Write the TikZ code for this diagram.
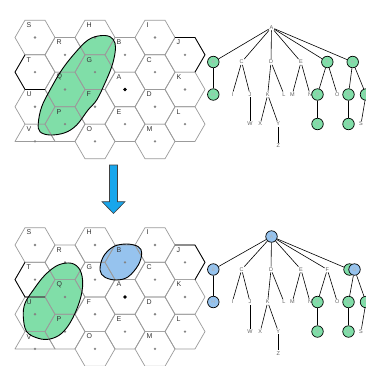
\documentclass[tikz,border=0pt]{standalone}
\usepackage{fontspec}
\setmainfont{Liberation Sans}
\usetikzlibrary{backgrounds}
\definecolor{hexgray}{RGB}{155,155,155}
\definecolor{mint}{RGB}{128,222,168}
\definecolor{skyfill}{RGB}{150,195,238}
\definecolor{arrowblue}{RGB}{24,166,236}
\tikzset{
  hexline/.style={draw=hexgray, line width=0.7pt, line join=round},
  rimline/.style={draw=black, line width=0.8pt, line join=round},
  celllabel/.style={anchor=west, inner sep=0pt, text=black!80, font=\fontsize{7}{8}\selectfont},
  tlab/.style={inner sep=0.8pt, text=black!62, font=\fontsize{5.5}{6}\selectfont},
  tgreen/.style={circle, draw=black, line width=0.7pt, fill=mint, minimum size=11.5pt, inner sep=0pt, text=white!70!black, font=\fontsize{5}{6}\selectfont},
  tblue/.style={tgreen, fill=skyfill},
  tedge/.style={draw=black, line width=0.6pt},
  tbold/.style={draw=black, line width=1.3pt},
}
% hexagonal cells of one panel; #1 is a name prefix
\newcommand{\hexpanel}[1]{%
  \foreach \n/\c/\r in {S/0/0,T/0/1,U/0/2,R/1/0,Q/1/1,P/1/2,H/2/0,G/2/1,F/2/2,O/2/3,B/3/0,A/3/1,E/3/2,I/4/0,C/4/1,D/4/2,M/4/3,J/5/0,K/5/1,L/5/2}{%
    \pgfmathsetmacro\cx{35+30*\c}%
    \pgfmathsetmacro\cy{37.5+34.64*\r+17.32*mod(\c,2)}%
    \draw[hexline] (\cx+20,\cy) -- ++(-10,17.32) -- ++(-20,0) -- ++(-10,-17.32) -- ++(10,-17.32) -- ++(20,0) -- cycle;
    \fill[hexgray!85!black] (\cx,\cy) circle (1.3);
    \node[celllabel] (#1\n) at (\cx-8.5,\cy-12.5) {\n};
  }
  % truncated cell V at the lower border
  \draw[hexline] (55,141.4) -- (45,124.1) -- (25,124.1) -- (15,141.4) -- cycle;
  \fill[hexgray!85!black] (35,141.4) circle (1.3);
  \node[celllabel] (#1V) at (26.5,129.4) {V};
  % query point in cell A
  \fill[black] (125,89.5) circle (1.9);
  % dark rims of cells T and J
  \draw[rimline] (25,54.8) -- (15,72.1) -- (25,89.4) -- (45,89.4);
  \draw[rimline] (175,37.5) -- (195,37.5) -- (205,54.8) -- (195,72.1);
}
\begin{document}
\begin{tikzpicture}[x=1pt,y=-1pt]
\useasboundingbox (0,0) rectangle (366,365);
\begin{scope}[on background layer]
\fill[white] (0,0) rectangle (366,365);
\end{scope}

% ---------------- upper panel ----------------
\fill[mint] plot[smooth cycle, tension=0.6] coordinates {(100,35.7) (110,36.7) (115,43) (115,53) (111.7,66.7) (105,83) (96.7,100) (88,110) (76.7,125) (65,132.7) (50,135) (40,131.7) (38.3,123) (41.7,106.7) (50,90) (61.7,70) (75,53) (88,40)};
\hexpanel{u}
\draw[black, line width=0.9pt] plot[smooth cycle, tension=0.6] coordinates {(100,35.7) (110,36.7) (115,43) (115,53) (111.7,66.7) (105,83) (96.7,100) (88,110) (76.7,125) (65,132.7) (50,135) (40,131.7) (38.3,123) (41.7,106.7) (50,90) (61.7,70) (75,53) (88,40)};

% tree of the upper panel
\node[tlab] (tA) at (271.5,27.5) {A};
\node[tgreen] (tB) at (213.3,62) {B};
\node[tlab] (tC) at (241.7,62) {C};
\node[tlab] (tD) at (271,62) {D};
\node[tlab] (tE) at (301,62) {E};
\node[tgreen] (tF) at (327.3,62) {F};
\node[tgreen] (tG) at (352.7,62) {G};
\node[tgreen] (tH) at (213.3,94.5) {H};
\node[tlab] (tI) at (232.3,94.5) {I};
\node[tlab] (tJ) at (250,94.5) {J};
\node[tlab] (tK) at (267.7,94.5) {K};
\node[tlab] (tL) at (284,94.5) {L};
\node[tlab] (tM) at (292.3,94.5) {M};
\node[tlab] (tN) at (310,94.5) {N};
\node[tgreen] (tP) at (317.5,94.5) {P};
\node[tlab] (tO) at (337.3,94.5) {O};
\node[tgreen] (tQ) at (348.5,94.5) {Q};
\node[tgreen] (tR) at (366,94.5) {R};
\node[tlab] (tW) at (250,124) {W};
\node[tlab] (tX) at (260.3,124) {X};
\node[tlab] (tY) at (278.3,124) {Y};
\node[tgreen] (tV) at (317.5,124) {V};
\node[tgreen] (tU) at (348.5,124) {U};
\node[tlab] (tS) at (361,124) {S};
\node[tlab] (tZ) at (278.3,145.7) {Z};
\begin{scope}[on background layer]
\foreach \k in {B,C,D,E,F,G}{\draw[tedge] (tA) -- (t\k);}
\draw[tbold] (tB) -- (tH);
\draw[tedge] (tC) -- (tI); \draw[tedge] (tC) -- (tJ);
\draw[tedge] (tD) -- (tK); \draw[tedge] (tD) -- (tL);
\draw[tedge] (tE) -- (tM); \draw[tedge] (tE) -- (tN);
\draw[tedge] (tF) -- (tP); \draw[tedge] (tF) -- (tO);
\draw[tedge] (tG) -- (tQ); \draw[tedge] (tG) -- (tR);
\draw[tedge] (tJ) -- (tW);
\draw[tedge] (tK) -- (tX); \draw[tedge] (tK) -- (tY);
\draw[tedge] (tY) -- (tZ);
\draw[tbold] (tP) -- (tV);
\draw[tbold] (tQ) -- (tU);
\draw[tedge] (tR) -- (tS);
\end{scope}

% ---------------- transition arrow ----------------
\filldraw[fill=arrowblue, draw=black!75, line width=0.6pt, line join=miter]
  (109.5,165) -- (117.5,165) -- (117.5,201.7) -- (125,201.7) -- (113.5,213.5) -- (102,201.7) -- (109.5,201.7) -- cycle;

% ---------------- lower panel ----------------
\begin{scope}[shift={(0,207.5)}]
\fill[mint] plot[smooth cycle, tension=0.6] coordinates {(23.3,109.2) (25,95.8) (33.3,82.5) (45,67.5) (58.3,57.5) (71.7,55.8) (80,62.5) (82.7,75.8) (80,92.5) (71.7,112.5) (61.7,125.8) (50,131.5) (38.3,130.8) (26.7,124.2)};
\fill[skyfill] plot[smooth cycle, tension=0.6] coordinates {(100,62.5) (103.3,49.2) (113.3,39.2) (126.7,36.5) (138.3,39.2) (141.7,45.8) (138.3,57.5) (128.3,69.2) (116.7,72.5) (105,69.8)};
\hexpanel{l}
\draw[black, line width=0.9pt] plot[smooth cycle, tension=0.6] coordinates {(23.3,109.2) (25,95.8) (33.3,82.5) (45,67.5) (58.3,57.5) (71.7,55.8) (80,62.5) (82.7,75.8) (80,92.5) (71.7,112.5) (61.7,125.8) (50,131.5) (38.3,130.8) (26.7,124.2)};
\draw[black, line width=0.9pt] plot[smooth cycle, tension=0.6] coordinates {(100,62.5) (103.3,49.2) (113.3,39.2) (126.7,36.5) (138.3,39.2) (141.7,45.8) (138.3,57.5) (128.3,69.2) (116.7,72.5) (105,69.8)};

% tree of the lower panel
\node[tblue] (bA) at (271.5,29) {A};
\node[tblue] (bB) at (213.3,62) {B};
\node[tlab] (bC) at (241.7,62) {C};
\node[tlab] (bD) at (271,62) {D};
\node[tlab] (bE) at (301,62) {E};
\node[tlab] (bF) at (327.3,62) {F};
\node[tgreen] (bGg) at (349.5,62) {G};
\node[tblue] (bG) at (354.5,62) {G};
\node[tblue] (bH) at (213.3,94.5) {H};
\node[tlab] (bI) at (232.3,94.5) {I};
\node[tlab] (bJ) at (250,94.5) {J};
\node[tlab] (bK) at (267.7,94.5) {K};
\node[tlab] (bL) at (284,94.5) {L};
\node[tlab] (bM) at (292.3,94.5) {M};
\node[tlab] (bN) at (310,94.5) {N};
\node[tgreen] (bP) at (317.5,94.5) {P};
\node[tlab] (bO) at (337.3,94.5) {O};
\node[tgreen] (bQ) at (348.5,94.5) {Q};
\node[tgreen] (bR) at (366,94.5) {R};
\node[tlab] (bW) at (250,124) {W};
\node[tlab] (bX) at (260.3,124) {X};
\node[tlab] (bY) at (278.3,124) {Y};
\node[tgreen] (bV) at (317.5,124) {V};
\node[tgreen] (bU) at (348.5,124) {U};
\node[tlab] (bS) at (361,124) {S};
\node[tlab] (bZ) at (278.3,145.7) {Z};
\begin{scope}[on background layer]
\foreach \k in {B,C,D,E,F,Gg}{\draw[tedge] (bA) -- (b\k);}
\draw[tbold] (bB) -- (bH);
\draw[tedge] (bC) -- (bI); \draw[tedge] (bC) -- (bJ);
\draw[tedge] (bD) -- (bK); \draw[tedge] (bD) -- (bL);
\draw[tedge] (bE) -- (bM); \draw[tedge] (bE) -- (bN);
\draw[tedge] (bF) -- (bP); \draw[tedge] (bF) -- (bO);
\draw[tedge] (bG) -- (bQ); \draw[tedge] (bG) -- (bR);
\draw[tedge] (bJ) -- (bW);
\draw[tedge] (bK) -- (bX); \draw[tedge] (bK) -- (bY);
\draw[tedge] (bY) -- (bZ);
\draw[tbold] (bP) -- (bV);
\draw[tbold] (bQ) -- (bU);
\draw[tedge] (bR) -- (bS);
\end{scope}
\end{scope}
\end{tikzpicture}
\end{document}
